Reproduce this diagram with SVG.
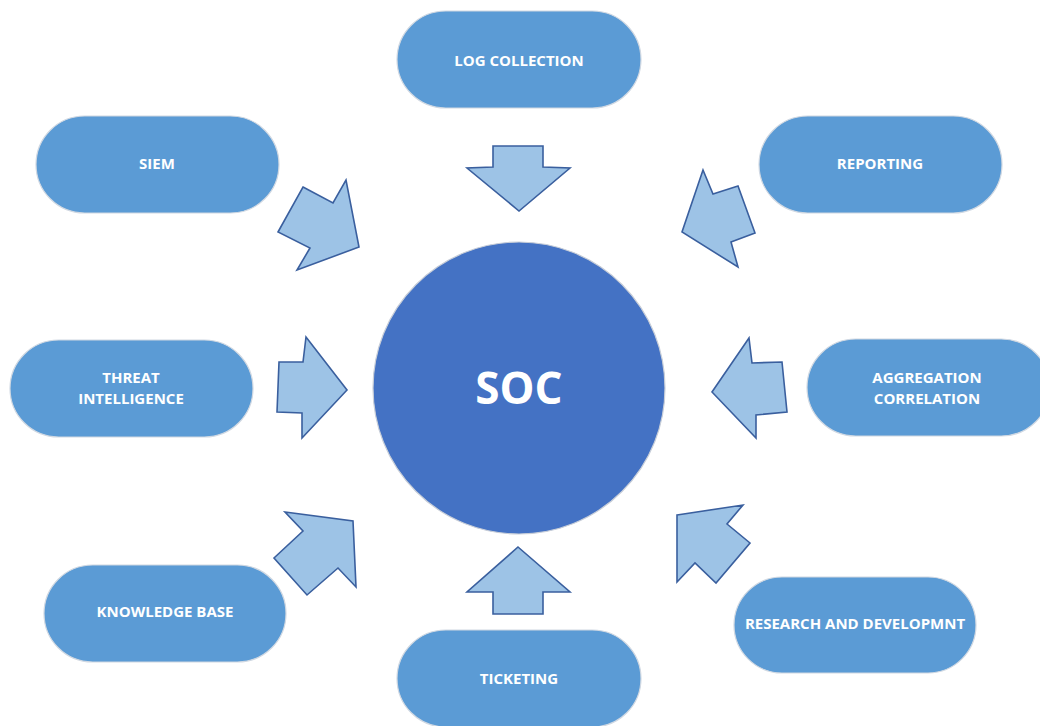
<svg xmlns="http://www.w3.org/2000/svg" width="1040" height="726" viewBox="0 0 1040 726">
<style>
.pill{fill:#5B9BD5;stroke:#D0D8E2;stroke-width:1.2}
.lbl{font-family:"Open Sans","Liberation Sans",sans-serif;font-weight:700;font-size:15px;fill:#FFFFFF;text-anchor:middle}
.arr{fill:#9DC3E6;stroke:#3A5F9E;stroke-width:1.6;stroke-linejoin:miter}
</style>
<rect width="1040" height="726" fill="#FFFFFF"/>
<g id="soc">
<circle cx="519" cy="388" r="146" fill="#4472C4" stroke="#C8CED8" stroke-width="1.2"/>
<text x="519" y="404" class="lbl" style="font-size:44px;font-weight:700">SOC</text>
</g>
<g id="log-collection">
<rect x="397" y="11" width="244" height="97" rx="48.5" class="pill"/>
<text x="519" y="65.5" class="lbl">LOG COLLECTION</text>
</g>
<g id="siem">
<rect x="36" y="116" width="243" height="97" rx="48.5" class="pill"/>
<text x="157" y="169" class="lbl">SIEM</text>
</g>
<g id="reporting">
<rect x="759" y="116" width="243" height="97" rx="48.5" class="pill"/>
<text x="880" y="169" class="lbl">REPORTING</text>
</g>
<g id="threat-intelligence">
<rect x="10" y="340" width="243" height="97" rx="48.5" class="pill"/>
<text x="131" y="383" class="lbl">THREAT</text>
<text x="131" y="404" class="lbl">INTELLIGENCE</text>
</g>
<g id="aggregation-correlation">
<rect x="807" y="339" width="243" height="97" rx="48.5" class="pill"/>
<text x="927" y="383" class="lbl">AGGREGATION</text>
<text x="927" y="404" class="lbl">CORRELATION</text>
</g>
<g id="knowledge-base">
<rect x="44" y="565" width="242" height="97" rx="48.5" class="pill"/>
<text x="165" y="617" class="lbl">KNOWLEDGE BASE</text>
</g>
<g id="ticketing">
<rect x="397" y="630" width="244" height="97" rx="48.5" class="pill"/>
<text x="519" y="684" class="lbl">TICKETING</text>
</g>
<g id="research-development">
<rect x="734" y="577" width="242" height="96" rx="48" class="pill"/>
<text x="855" y="629" class="lbl">RESEARCH AND DEVELOPMNT</text>
</g>
<g id="connectors">
<polygon class="arr" points="493,146 543,146 543,167 570,168 519,211 467,168 493,167"/>
<polygon class="arr" points="303,187 333,203 346,180 359,247 297,270 310,248 278,232"/>
<polygon class="arr" points="703,170 713,194 738,186 755,233 731,242 738,267 682,232"/>
<polygon class="arr" points="306,337 303,362 279,362 277,412 302,413 302,438 347,390"/>
<polygon class="arr" points="749,338 752,363 782,362 787,412 756,415 756,438 712,392"/>
<polygon class="arr" points="285,512 353,521 356,587 338,568 307,595 274,558 303,531"/>
<polygon class="arr" points="518,547 570,592 543,592 543,614 493,614 493,592 467,592"/>
<polygon class="arr" points="677,515 743,505 727,524 750,543 716,583 695,563 677,582"/>
</g>
</svg>
